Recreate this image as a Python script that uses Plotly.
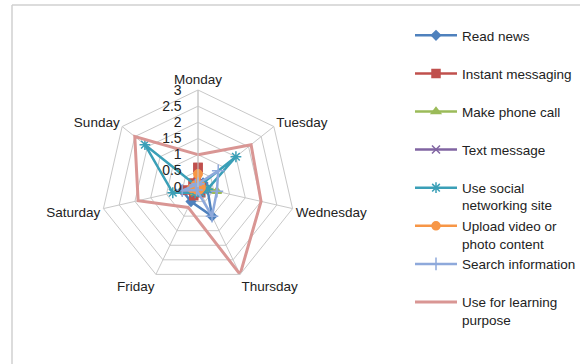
import plotly.graph_objects as go

# Days of the week (angular categories)
days = ["Monday", "Tuesday", "Wednesday", "Thursday", "Friday", "Saturday", "Sunday"]

# Average hours of smartphone use per activity
read_news = [0.1, 0.2, 0.3, 1.0, 0.5, 0.5, 0.1]
instant_messaging = [0.6, 0.1, 0.1, 0.2, 0.3, 0.4, 0.2]
make_phone_call = [0.1, 0.1, 0.6, 0.1, 0.2, 0.1, 0.1]
text_message = [0.1, 0.1, 0.3, 0.1, 0.1, 0.1, 0.1]
social_networking = [0.0, 1.5, 0.3, 0.2, 0.2, 0.8, 2.1]
upload_content = [0.4, 0.1, 0.1, 0.1, 0.1, 0.2, 0.1]
search_information = [0.1, 0.8, 0.6, 1.0, 0.1, 0.5, 0.1]
learning_purpose = [1.0, 2.1, 2.0, 3.0, 0.7, 1.9, 2.5]

# Radial tick values
radial_ticks = [0, 0.5, 1, 1.5, 2, 2.5, 3]

series = [
    ("Read news<br> ", read_news, "#4F81BD", "diamond", 7),
    ("Instant messaging<br> ", instant_messaging, "#C0504D", "square", 8),
    ("Make phone call<br> ", make_phone_call, "#9BBB59", "triangle-up", 8),
    ("Text message<br> ", text_message, "#8064A2", "x-thin", 8),
    ("Use social<br>networking site", social_networking, "#3A9FB7", "asterisk-open", 9),
    ("Upload video or<br>photo content", upload_content, "#F79646", "circle", 8),
    ("Search information<br> ", search_information, "#8EA9DB", "cross-thin", 9),
    ("Use for learning<br>purpose", learning_purpose, "#D99694", None, 0),
]

fig = go.Figure()
for i, (name, vals, color, symbol, size) in enumerate(series):
    r = vals + vals[:1]
    theta = days + days[:1]
    if symbol is None:
        mode = "lines"
        marker = dict()
    else:
        mode = "lines+markers"
        marker = dict(symbol=symbol, size=size, color=color,
                      line=dict(color=color, width=1.5))
    fig.add_trace(go.Scatterpolar(
        r=r, theta=theta, name=name, mode=mode,
        line=dict(color=color, width=3 if symbol is None else 2.5),
        marker=marker, legendgroup=f"g{i}",
    ))

grid = "#c8c8c8"
W, H = 580, 364
cx, cy, R = 198.0, 187.0, 97.0

fig.update_layout(
    width=W, height=H,
    margin=dict(l=0, r=0, t=0, b=0, autoexpand=False),
    paper_bgcolor="white",
    font=dict(family="Liberation Sans, Arial, sans-serif", color="#222222"),
    polar=dict(
        domain=dict(x=[(cx - R) / W, (cx + R) / W],
                    y=[(H - cy - R) / H, (H - cy + R) / H]),
        gridshape="linear",
        bgcolor="white",
        radialaxis=dict(
            range=[0, 3], tickvals=radial_ticks,
            ticktext=[f"{v:g}" for v in radial_ticks],
            angle=90, tickangle=90, side="counterclockwise",
            showline=True, linecolor=grid, linewidth=1,
            gridcolor=grid, gridwidth=1,
            ticks="outside", ticklen=11, tickcolor="rgba(0,0,0,0)",
            tickfont=dict(size=14, color="#222222"),
        ),
        angularaxis=dict(
            rotation=90, direction="clockwise",
            showline=True, linecolor=grid, linewidth=1,
            gridcolor=grid, gridwidth=1,
            ticks="", tickfont=dict(size=13.5, color="#222222"),
        ),
    ),
    legend=dict(
        x=410 / W, xanchor="left", y=1 - 20 / H, yanchor="top",
        valign="top", tracegroupgap=0, itemwidth=42,
        font=dict(size=13.5, color="#222222"),
        bgcolor="rgba(0,0,0,0)",
    ),
    shapes=[
        dict(type="line", xref="paper", yref="paper",
             x0=12 / W, y0=1 - 5 / H, x1=1, y1=1 - 5 / H,
             line=dict(color="#d0d0d0", width=1.5)),
        dict(type="line", xref="paper", yref="paper",
             x0=12 / W, y0=1 - 5 / H, x1=12 / W, y1=0,
             line=dict(color="#d0d0d0", width=1.5)),
    ],
)

fig.write_html("out.html")
